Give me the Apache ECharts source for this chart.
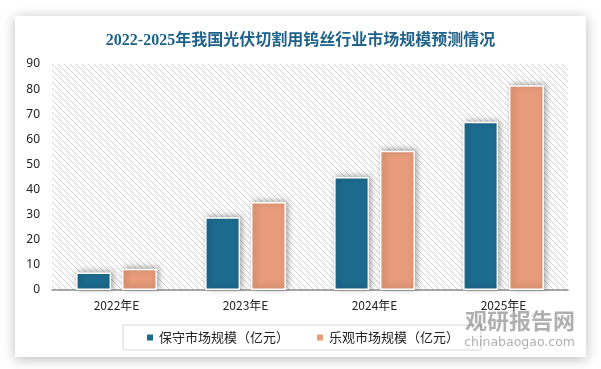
<!DOCTYPE html>
<html><head><meta charset="utf-8">
<script src="https://cdn.jsdelivr.net/npm/echarts@6/dist/echarts.min.js"></script>
<style>html,body{margin:0;padding:0;background:#fff;}#c{width:601px;height:369px;}</style>
</head><body><div id="c"></div>
<script>
const title = '2022-2025年我国光伏切割用钨丝行业市场规模预测情况';
const categories = ['2022年E', '2023年E', '2024年E', '2025年E'];
const seriesNames = ['保守市场规模（亿元）', '乐观市场规模（亿元）'];
const conservative = [7, 29, 45, 67];
const optimistic = [8.5, 35, 55.5, 81.5];
const yTicks = [0, 90, 10];

// hatch pattern
const T = 6;
const pc = document.createElement('canvas');
pc.width = T; pc.height = T;
const g = pc.getContext('2d');
g.fillStyle = '#ffffff'; g.fillRect(0, 0, T, T);
g.fillStyle = '#d4d4d4';
for (let i = 0; i < T; i++) { g.fillRect(i, i, 1, 1); }

const chart = echarts.init(document.getElementById('c'));
const barStyle = (c) => ({ color: c, borderColor: '#fff', borderWidth: 1.5, shadowBlur: 6, shadowColor: 'rgba(0,0,0,0.35)', shadowOffsetX: 2, shadowOffsetY: -1 });
chart.setOption({
  backgroundColor: '#fff',
  animation: false,
  graphic: [
    { type: 'rect', z: -10, shape: { x: 15, y: 16, width: 571, height: 341 }, style: { fill: '#fff', shadowBlur: 12, shadowColor: 'rgba(0,0,0,0.28)', shadowOffsetX: 0, shadowOffsetY: 2 } },
    { type: 'text', right: 26, top: 310, z: 10, style: { text: '观研报告网', font: 'bold 22px "Noto Sans CJK SC"', fill: 'rgba(110,110,110,0.55)' } },
    { type: 'text', right: 26, top: 336, z: 10, style: { text: 'chinabaogao.com', font: '12.5px "DejaVu Sans"', fill: 'rgba(110,110,110,0.55)' } }
  ],
  title: {
    text: title, left: 'center', top: 28,
    textStyle: { color: '#1f6289', fontSize: 16, fontWeight: 'bold', fontFamily: '"Liberation Serif", "Noto Sans CJK SC"' }
  },
  legend: {
    left: 123, top: 325, width: 355, itemWidth: 8, itemHeight: 8, itemGap: 26,
    padding: [6, 22, 6, 22], borderColor: '#d6d6d6', borderWidth: 1,
    icon: 'rect',
    textStyle: { fontSize: 13, color: '#222', fontFamily: '"Noto Sans CJK SC"' },
    data: seriesNames
  },
  grid: { left: 52, right: 33, top: 64, bottom: 79, show: true, borderWidth: 0, backgroundColor: { image: pc, repeat: 'repeat' } },
  xAxis: {
    type: 'category', data: categories,
    axisLine: { lineStyle: { color: '#8c8c8c', width: 1.5 } },
    axisTick: { show: false },
    axisLabel: { color: '#222', fontSize: 12, margin: 9, fontFamily: '"Noto Sans CJK SC"' }
  },
  yAxis: {
    type: 'value', min: yTicks[0], max: yTicks[1], interval: yTicks[2],
    axisLine: { show: false }, axisTick: { show: false }, splitLine: { show: false },
    axisLabel: { color: '#222', fontSize: 12, margin: 12, fontFamily: '"Noto Sans", sans-serif' }
  },
  series: [
    { name: seriesNames[0], type: 'bar', data: conservative, barWidth: 35, barGap: '31%', itemStyle: barStyle('#1d6b8f') },
    { name: seriesNames[1], type: 'bar', data: optimistic, barWidth: 35, itemStyle: barStyle('#e89c7b') }
  ]
});
</script></body></html>
